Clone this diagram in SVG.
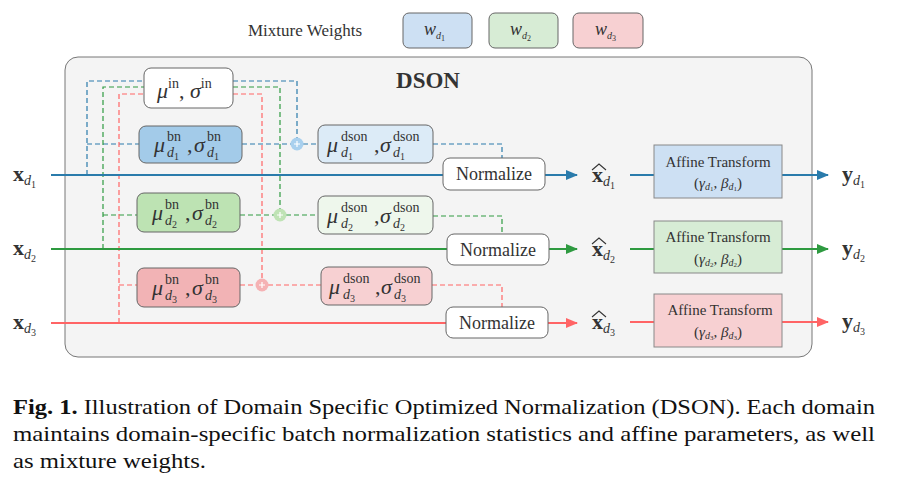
<svg xmlns="http://www.w3.org/2000/svg" width="903" height="498" viewBox="0 0 903 498" font-family="Liberation Serif">
<defs>
<style>
svg text, svg tspan{font-family:'Liberation Serif', 'DejaVu Serif', serif !important}
.box{stroke:#666;stroke-width:1}
.dash{fill:none;stroke-width:1.2;stroke-dasharray:5 3}
.solid{fill:none;stroke-width:1.8}
.blue{stroke:#2a7bab}
.green{stroke:#2e9a40}
.red{stroke:#ff6465}
</style>
<marker id="ab" viewBox="0 0 10 10" refX="9" refY="5" markerWidth="7" markerHeight="7" orient="auto"><path d="M0,1 L10,5 L0,9 z" fill="#2a7bab"/></marker>
<marker id="ag" viewBox="0 0 10 10" refX="9" refY="5" markerWidth="7" markerHeight="7" orient="auto"><path d="M0,1 L10,5 L0,9 z" fill="#2e9a40"/></marker>
<marker id="ar" viewBox="0 0 10 10" refX="9" refY="5" markerWidth="7" markerHeight="7" orient="auto"><path d="M0,1 L10,5 L0,9 z" fill="#ff6465"/></marker>
</defs>
<rect width="903" height="498" fill="#fff"/>

<g id="mixture">
<text font-family="Liberation Serif" fill="#333" x="248" y="36" font-size="17">Mixture Weights</text>
<rect x="403" y="13" width="69" height="35" rx="6" fill="#cde0f3" class="box"/>
<text font-family="Liberation Serif" fill="#333" x="424" y="35" font-style="italic" font-size="18">w<tspan font-size="10" dy="4">d</tspan><tspan font-size="8" dy="2" font-style="normal">1</tspan></text>
<rect x="489" y="13" width="69" height="35" rx="6" fill="#d7ecd5" class="box"/>
<text font-family="Liberation Serif" fill="#333" x="510" y="35" font-style="italic" font-size="18">w<tspan font-size="10" dy="4">d</tspan><tspan font-size="8" dy="2" font-style="normal">2</tspan></text>
<rect x="573" y="13" width="70" height="35" rx="6" fill="#f7d0d2" class="box"/>
<text font-family="Liberation Serif" fill="#333" x="595" y="35" font-style="italic" font-size="18">w<tspan font-size="10" dy="4">d</tspan><tspan font-size="8" dy="2" font-style="normal">3</tspan></text>
</g>

<g id="container">
<rect x="65" y="57" width="747" height="300" rx="13" fill="#f4f4f4" stroke="#777" stroke-width="1"/>
<text font-family="Liberation Serif" fill="#333" x="428" y="88" text-anchor="middle" font-weight="bold" font-size="23">DSON</text>
</g>

<g id="connectors">
<path class="dash blue" d="M87,175 V81 H145 M233,81 H297 V138 M87,144 H139 M242,144 H291 M303,144 H318 M433,144 H502 V158"/>
<path class="dash green" d="M103,249 V87 H145 M233,87 H280 V209 M103,215 H137 M240,215 H274 M286,215 H318 M433,216 H502 V234"/>
<path class="dash red" d="M119,323 V94 H145 M233,94 H262 V279 M119,285 H137 M240,285 H256 M268,285 H321 M432,285 H502 V307"/>
<path class="solid blue" d="M51,175 H443 M545,175 H577" marker-end="url(#ab)"/>
<path class="solid green" d="M51,249 H447 M549,249 H577" marker-end="url(#ag)"/>
<path class="solid red" d="M51,323 H446 M548,323 H577" marker-end="url(#ar)"/>
<path class="solid blue" d="M630,175 H654 M782,175 H828" marker-end="url(#ab)"/>
<path class="solid green" d="M630,249 H654 M782,249 H828" marker-end="url(#ag)"/>
<path class="solid red" d="M630,322 H654 M782,322 H828" marker-end="url(#ar)"/>
</g>

<g id="plus">
<circle cx="297" cy="144" r="6.5" fill="#a9d0ee"/>
<path d="M294,144 H300 M297,141 V147" stroke="#fff" stroke-width="1.2"/>
<circle cx="280" cy="215" r="6.5" fill="#bfe3b5"/>
<path d="M277,215 H283 M280,212 V218" stroke="#fff" stroke-width="1.2"/>
<circle cx="262" cy="285" r="6.5" fill="#f5b2b4"/>
<path d="M259,285 H265 M262,282 V288" stroke="#fff" stroke-width="1.2"/>
</g>

<g id="inputs">
<text font-family="Liberation Serif" fill="#333" x="13" y="181" font-weight="bold" font-size="22">x<tspan font-style="italic" font-size="14" font-weight="normal" dy="4">d</tspan><tspan font-size="10" font-weight="normal" dy="3">1</tspan></text>
<text font-family="Liberation Serif" fill="#333" x="13" y="255" font-weight="bold" font-size="22">x<tspan font-style="italic" font-size="14" font-weight="normal" dy="4">d</tspan><tspan font-size="10" font-weight="normal" dy="3">2</tspan></text>
<text font-family="Liberation Serif" fill="#333" x="13" y="329" font-weight="bold" font-size="22">x<tspan font-style="italic" font-size="14" font-weight="normal" dy="4">d</tspan><tspan font-size="10" font-weight="normal" dy="3">3</tspan></text>
</g>

<g id="mu_in">
<rect x="144" y="68" width="89" height="40" rx="7" fill="#fff" class="box"/>
<text font-family="Liberation Serif" fill="#333" x="157" y="98" font-size="22"><tspan font-style="italic">μ</tspan><tspan font-size="14" dy="-10">in</tspan><tspan dy="10">, </tspan><tspan font-style="italic">σ</tspan><tspan font-size="14" dy="-10">in</tspan></text>
</g>

<g id="bn_d1">
<rect x="139" y="126" width="103" height="37" rx="7" fill="#a3cbe9" class="box"/>
<text font-family="Liberation Serif" fill="#333" x="154" y="152" font-size="22" font-style="italic">μ</text>
<text font-family="Liberation Serif" fill="#333" x="167" y="141" font-size="14">bn</text>
<text font-family="Liberation Serif" fill="#333" x="167" y="157" font-size="14" font-style="italic">d<tspan font-size="10" font-style="normal" dy="3">1</tspan></text>
<text font-family="Liberation Serif" fill="#333" x="187" y="152" font-size="22">,</text>
<text font-family="Liberation Serif" fill="#333" x="194" y="152" font-size="22" font-style="italic">σ</text>
<text font-family="Liberation Serif" fill="#333" x="207" y="141" font-size="14">bn</text>
<text font-family="Liberation Serif" fill="#333" x="207" y="157" font-size="14" font-style="italic">d<tspan font-size="10" font-style="normal" dy="3">1</tspan></text>
</g>

<g id="bn_d2">
<rect x="137" y="193" width="103" height="39" rx="7" fill="#bde3b3" class="box"/>
<text font-family="Liberation Serif" fill="#333" x="152" y="220" font-size="22" font-style="italic">μ</text>
<text font-family="Liberation Serif" fill="#333" x="165" y="209" font-size="14">bn</text>
<text font-family="Liberation Serif" fill="#333" x="165" y="225" font-size="14" font-style="italic">d<tspan font-size="10" font-style="normal" dy="3">2</tspan></text>
<text font-family="Liberation Serif" fill="#333" x="185" y="220" font-size="22">,</text>
<text font-family="Liberation Serif" fill="#333" x="192" y="220" font-size="22" font-style="italic">σ</text>
<text font-family="Liberation Serif" fill="#333" x="205" y="209" font-size="14">bn</text>
<text font-family="Liberation Serif" fill="#333" x="205" y="225" font-size="14" font-style="italic">d<tspan font-size="10" font-style="normal" dy="3">2</tspan></text>
</g>

<g id="bn_d3">
<rect x="137" y="268" width="103" height="39" rx="7" fill="#f2b3b5" class="box"/>
<text font-family="Liberation Serif" fill="#333" x="152" y="295" font-size="22" font-style="italic">μ</text>
<text font-family="Liberation Serif" fill="#333" x="165" y="284" font-size="14">bn</text>
<text font-family="Liberation Serif" fill="#333" x="165" y="300" font-size="14" font-style="italic">d<tspan font-size="10" font-style="normal" dy="3">3</tspan></text>
<text font-family="Liberation Serif" fill="#333" x="185" y="295" font-size="22">,</text>
<text font-family="Liberation Serif" fill="#333" x="192" y="295" font-size="22" font-style="italic">σ</text>
<text font-family="Liberation Serif" fill="#333" x="205" y="284" font-size="14">bn</text>
<text font-family="Liberation Serif" fill="#333" x="205" y="300" font-size="14" font-style="italic">d<tspan font-size="10" font-style="normal" dy="3">3</tspan></text>
</g>

<g id="dson_d1">
<rect x="318" y="125" width="115" height="38" rx="7" fill="#dcebf7" class="box"/>
<text font-family="Liberation Serif" fill="#333" x="327" y="152" font-size="22" font-style="italic">μ</text>
<text font-family="Liberation Serif" fill="#333" x="341" y="141" font-size="14">dson</text>
<text font-family="Liberation Serif" fill="#333" x="341" y="157" font-size="14" font-style="italic">d<tspan font-size="10" font-style="normal" dy="3">1</tspan></text>
<text font-family="Liberation Serif" fill="#333" x="374" y="152" font-size="22">,</text>
<text font-family="Liberation Serif" fill="#333" x="380" y="152" font-size="22" font-style="italic">σ</text>
<text font-family="Liberation Serif" fill="#333" x="393" y="141" font-size="14">dson</text>
<text font-family="Liberation Serif" fill="#333" x="393" y="157" font-size="14" font-style="italic">d<tspan font-size="10" font-style="normal" dy="3">1</tspan></text>
</g>

<g id="dson_d2">
<rect x="318" y="196" width="115" height="38" rx="7" fill="#eef7ec" class="box"/>
<text font-family="Liberation Serif" fill="#333" x="327" y="223" font-size="22" font-style="italic">μ</text>
<text font-family="Liberation Serif" fill="#333" x="341" y="212" font-size="14">dson</text>
<text font-family="Liberation Serif" fill="#333" x="341" y="228" font-size="14" font-style="italic">d<tspan font-size="10" font-style="normal" dy="3">2</tspan></text>
<text font-family="Liberation Serif" fill="#333" x="374" y="223" font-size="22">,</text>
<text font-family="Liberation Serif" fill="#333" x="380" y="223" font-size="22" font-style="italic">σ</text>
<text font-family="Liberation Serif" fill="#333" x="393" y="212" font-size="14">dson</text>
<text font-family="Liberation Serif" fill="#333" x="393" y="228" font-size="14" font-style="italic">d<tspan font-size="10" font-style="normal" dy="3">2</tspan></text>
</g>

<g id="dson_d3">
<rect x="321" y="267" width="111" height="38" rx="7" fill="#f7d0d2" class="box"/>
<text font-family="Liberation Serif" fill="#333" x="329" y="294" font-size="22" font-style="italic">μ</text>
<text font-family="Liberation Serif" fill="#333" x="343" y="283" font-size="14">dson</text>
<text font-family="Liberation Serif" fill="#333" x="343" y="299" font-size="14" font-style="italic">d<tspan font-size="10" font-style="normal" dy="3">3</tspan></text>
<text font-family="Liberation Serif" fill="#333" x="375" y="294" font-size="22">,</text>
<text font-family="Liberation Serif" fill="#333" x="381" y="294" font-size="22" font-style="italic">σ</text>
<text font-family="Liberation Serif" fill="#333" x="394" y="283" font-size="14">dson</text>
<text font-family="Liberation Serif" fill="#333" x="394" y="299" font-size="14" font-style="italic">d<tspan font-size="10" font-style="normal" dy="3">3</tspan></text>
</g>

<g id="norm_d1">
<rect x="443" y="158" width="102" height="32" rx="7" fill="#fff" class="box"/>
<text font-family="Liberation Serif" fill="#333" x="494" y="180" text-anchor="middle" font-size="18">Normalize</text>
</g>
<g id="norm_d2">
<rect x="447" y="234" width="102" height="31" rx="7" fill="#fff" class="box"/>
<text font-family="Liberation Serif" fill="#333" x="498" y="256" text-anchor="middle" font-size="18">Normalize</text>
</g>
<g id="norm_d3">
<rect x="446" y="307" width="102" height="31" rx="7" fill="#fff" class="box"/>
<text font-family="Liberation Serif" fill="#333" x="497" y="329" text-anchor="middle" font-size="18">Normalize</text>
</g>

<g id="xhat">
<text font-family="Liberation Serif" fill="#333" x="592" y="182" font-weight="bold" font-size="22">x<tspan font-style="italic" font-size="14" font-weight="normal" dy="4">d</tspan><tspan font-size="10" font-weight="normal" dy="3">1</tspan></text>
<path d="M592,170 L599,164 L606,170" fill="none" stroke="#333" stroke-width="1.1"/>
<text font-family="Liberation Serif" fill="#333" x="592" y="256" font-weight="bold" font-size="22">x<tspan font-style="italic" font-size="14" font-weight="normal" dy="4">d</tspan><tspan font-size="10" font-weight="normal" dy="3">2</tspan></text>
<path d="M592,244 L599,238 L606,244" fill="none" stroke="#333" stroke-width="1.1"/>
<text font-family="Liberation Serif" fill="#333" x="592" y="329" font-weight="bold" font-size="22">x<tspan font-style="italic" font-size="14" font-weight="normal" dy="4">d</tspan><tspan font-size="10" font-weight="normal" dy="3">3</tspan></text>
<path d="M592,317 L599,311 L606,317" fill="none" stroke="#333" stroke-width="1.1"/>
</g>

<g id="affine_d1">
<rect x="654" y="145" width="128" height="53" fill="#cde0f3" stroke="#888"/>
<text font-family="Liberation Serif" fill="#333" x="718" y="167" text-anchor="middle" font-size="15">Affine Transform</text>
<text font-family="Liberation Serif" fill="#333" x="718" y="188" text-anchor="middle" font-size="15">(<tspan font-style="italic">γ</tspan><tspan font-style="italic" font-size="10" dy="2">d</tspan><tspan font-size="7" dy="1">1</tspan><tspan dy="-3">, </tspan><tspan font-style="italic">β</tspan><tspan font-style="italic" font-size="10" dy="2">d</tspan><tspan font-size="7" dy="1">1</tspan><tspan dy="-3">)</tspan></text>
</g>
<g id="affine_d2">
<rect x="654" y="221" width="128" height="52" fill="#d7ecd5" stroke="#888"/>
<text font-family="Liberation Serif" fill="#333" x="718" y="242" text-anchor="middle" font-size="15">Affine Transform</text>
<text font-family="Liberation Serif" fill="#333" x="718" y="264" text-anchor="middle" font-size="15">(<tspan font-style="italic">γ</tspan><tspan font-style="italic" font-size="10" dy="2">d</tspan><tspan font-size="7" dy="1">2</tspan><tspan dy="-3">, </tspan><tspan font-style="italic">β</tspan><tspan font-style="italic" font-size="10" dy="2">d</tspan><tspan font-size="7" dy="1">2</tspan><tspan dy="-3">)</tspan></text>
</g>
<g id="affine_d3">
<rect x="654" y="294" width="128" height="53" fill="#f7d0d2" stroke="#888"/>
<text font-family="Liberation Serif" fill="#333" x="720" y="315" text-anchor="middle" font-size="15">Affine Transform</text>
<text font-family="Liberation Serif" fill="#333" x="718" y="337" text-anchor="middle" font-size="15">(<tspan font-style="italic">γ</tspan><tspan font-style="italic" font-size="10" dy="2">d</tspan><tspan font-size="7" dy="1">3</tspan><tspan dy="-3">, </tspan><tspan font-style="italic">β</tspan><tspan font-style="italic" font-size="10" dy="2">d</tspan><tspan font-size="7" dy="1">3</tspan><tspan dy="-3">)</tspan></text>
</g>

<g id="outputs">
<text font-family="Liberation Serif" fill="#333" x="842" y="181" font-weight="bold" font-size="22">y<tspan font-style="italic" font-size="14" font-weight="normal" dy="4">d</tspan><tspan font-size="10" font-weight="normal" dy="3">1</tspan></text>
<text font-family="Liberation Serif" fill="#333" x="842" y="255" font-weight="bold" font-size="22">y<tspan font-style="italic" font-size="14" font-weight="normal" dy="4">d</tspan><tspan font-size="10" font-weight="normal" dy="3">2</tspan></text>
<text font-family="Liberation Serif" fill="#333" x="842" y="328" font-weight="bold" font-size="22">y<tspan font-style="italic" font-size="14" font-weight="normal" dy="4">d</tspan><tspan font-size="10" font-weight="normal" dy="3">3</tspan></text>
</g>

<g id="caption">
<text font-family="Liberation Serif" fill="#111" font-size="21" x="13" y="414" textLength="862" lengthAdjust="spacingAndGlyphs"><tspan font-weight="bold">Fig. 1.</tspan> Illustration of Domain Specific Optimized Normalization (DSON). Each domain</text>
<text font-family="Liberation Serif" fill="#111" font-size="21" x="13" y="441" textLength="862" lengthAdjust="spacingAndGlyphs">maintains domain-specific batch normalization statistics and affine parameters, as well</text>
<text font-family="Liberation Serif" fill="#111" font-size="21" x="13" y="468" textLength="193" lengthAdjust="spacingAndGlyphs">as mixture weights.</text>
</g>
</svg>
